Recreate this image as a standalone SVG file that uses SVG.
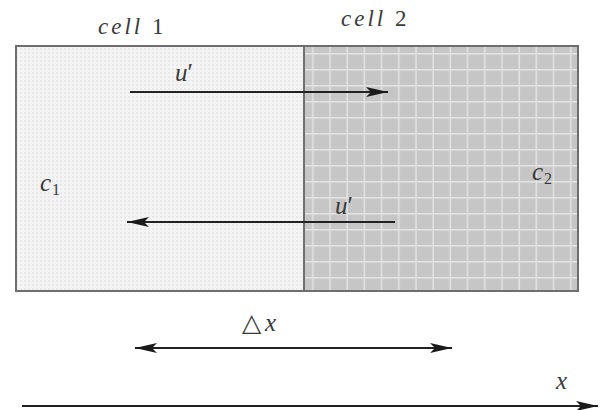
<svg xmlns="http://www.w3.org/2000/svg" width="600" height="410" viewBox="0 0 600 410" font-family="'Liberation Serif', serif" font-size="23">
<style>
.ln{stroke:#222;stroke-width:2;fill:none}
</style>
<defs>
<pattern id="grid" width="17.2" height="16" patternUnits="userSpaceOnUse" x="304" y="46">
<rect width="17.2" height="16" fill="#c6c6c6"/>
<rect x="8" y="0" width="1.6" height="16" fill="#e2e2e2"/>
<rect x="0" y="7" width="17.2" height="1.6" fill="#e2e2e2"/>
</pattern>
<pattern id="dots" width="4" height="4" patternUnits="userSpaceOnUse">
<rect width="4" height="4" fill="#f4f4f4"/>
<rect width="2" height="2" fill="#e9e9e9"/>
</pattern>
<marker id="ah" viewBox="0 0 22 12" refX="22" refY="6" markerWidth="22" markerHeight="12" markerUnits="userSpaceOnUse" orient="auto-start-reverse">
<path d="M0,1 L22,6 L0,11 L5,6 Z" fill="#1a1a1a"/>
</marker>
</defs>
<g id="cell1">
<rect x="16" y="46" width="288" height="245" fill="url(#dots)"/>
<text x="98" y="34" fill="#3a3a3a" letter-spacing="3"><tspan font-style="italic">cell</tspan> 1</text>
<text x="40" y="191" fill="#3a3a3a" font-style="italic" font-size="25">c<tspan font-size="16" font-style="normal" dx="1" dy="4">1</tspan></text>
</g>
<g id="cell2">
<rect x="304" y="46" width="274" height="245" fill="url(#grid)"/>
<text x="341" y="26" fill="#3a3a3a" letter-spacing="3"><tspan font-style="italic">cell</tspan> 2</text>
<text x="532" y="180" fill="#3a3a3a" font-style="italic" font-size="25">c<tspan font-size="16" font-style="normal" dx="1" dy="4">2</tspan></text>
</g>
<g id="frame">
<rect x="16" y="46" width="562" height="245" fill="none" stroke="#6e6e6e" stroke-width="2"/>
<line x1="304" y1="46" x2="304" y2="291" stroke="#6e6e6e" stroke-width="2"/>
</g>
<g id="connectors">
<line class="ln" x1="130" y1="92" x2="388" y2="92" marker-end="url(#ah)"/>
<line class="ln" x1="395" y1="222" x2="127" y2="222" marker-end="url(#ah)"/>
<line class="ln" x1="135" y1="348" x2="452" y2="348" marker-start="url(#ah)" marker-end="url(#ah)"/>
<line class="ln" x1="22" y1="406" x2="598" y2="406" marker-end="url(#ah)"/>
</g>
<g id="labels" fill="#3a3a3a" font-size="25">
<text x="175" y="81" font-style="italic">u<tspan font-style="normal">′</tspan></text>
<text x="335" y="214" font-style="italic">u<tspan font-style="normal">′</tspan></text>
<text x="242" y="331">△<tspan font-style="italic" dx="4">x</tspan></text>
<text x="556" y="389" font-style="italic">x</text>
</g>
</svg>
